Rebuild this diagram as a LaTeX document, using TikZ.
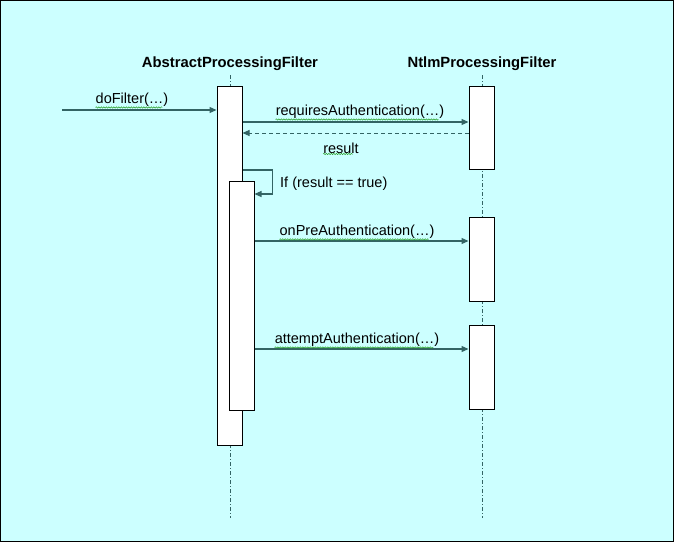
\documentclass[tikz,border=0pt]{standalone}
\usepackage{fontspec}
\setmainfont{Liberation Sans}
\usetikzlibrary{arrows.meta,decorations.pathmorphing}

\definecolor{bgcyan}{RGB}{204,255,255}
\definecolor{lineteal}{RGB}{51,100,100}
\definecolor{squig}{RGB}{40,160,40}

\tikzset{
  head/.style={font=\fontsize{14.8}{17}\selectfont\bfseries, inner sep=0pt},
  lbl/.style={font=\fontsize{14.5}{17}\selectfont, inner sep=0pt},
  lifeline/.style={lineteal, line width=1pt, dash pattern=on 4pt off 2pt on 1pt off 2pt},
  act/.style={draw=black, fill=white, line width=1pt, minimum width=25pt, inner sep=0pt},
  msg/.style={lineteal, line width=1.2pt, -{Triangle[length=7pt,width=6pt]}},
  reply/.style={msg, line width=1pt, dash pattern=on 4pt off 3pt},
  squiggle/.style={squig, line width=0.5pt, decorate,
    decoration={snake, amplitude=0.7pt, segment length=2.5pt}}
}

\begin{document}
\begin{tikzpicture}[x=1pt,y=1pt]
\useasboundingbox (0,0) rectangle (674,-542);
\fill [bgcyan] (0,0) rectangle (674,-542);
\draw [black, line width=1pt] (0.5,-0.5) rectangle (673.5,-541.5);

% headers and lifelines
\node [head] (apfhead) at (230,-64) {AbstractProcessingFilter};
\node [head] (ntlmhead) at (482,-64) {NtlmProcessingFilter};
\coordinate (apfend) at (230,-518);
\coordinate (ntlmend) at (482,-518);
\draw [lifeline] (apfhead.south |- 0,-75) -- (apfend);
\draw [lifeline] (ntlmhead.south |- 0,-75) -- (ntlmend);

% activations
\node [act, minimum height=359pt] (apfact) at (229.5,-265.5) {};
\node [act, minimum height=229pt] (apfinner) at (241.5,-295.5) {};
\node [act, minimum height=83pt] (ntlmact1) at (481.5,-127.5) {};
\node [act, minimum height=84pt] (ntlmact2) at (481.5,-259) {};
\node [act, minimum height=84pt] (ntlmact3) at (481.5,-367) {};

% messages
\coordinate (caller) at (62,-110);
\draw [msg] (caller) -- (apfact.west |- caller);
\node [lbl] (dofilter) at (132,-100) {doFilter(…)};

\draw [msg] (apfact.east |- 0,-122) -- (ntlmact1.west |- 0,-122);
\node [lbl] (reqauth) at (360,-112) {requiresAuthentication(…)};

\draw [reply] (ntlmact1.west |- 0,-133) -- (apfact.east |- 0,-133);
\node [lbl] (result) at (341,-148) {result};

\draw [msg] (apfact.east |- 0,-170) -- ++(30,0) |- (apfinner.east |- 0,-194);
\node [lbl, anchor=west] (cond) at (280,-184) {If (result == true)};

\draw [msg] (apfinner.east |- 0,-241) -- (ntlmact2.west |- 0,-241);
\node [lbl] (preauth) at (357,-232) {onPreAuthentication(…)};

\draw [msg] (apfinner.east |- 0,-349) -- (ntlmact3.west |- 0,-349);
\node [lbl] (attempt) at (357,-340) {attemptAuthentication(…)};

% spell check marks
\foreach \n in {dofilter,reqauth,result,preauth,attempt}
  \draw [squiggle] ([yshift=-0.5pt]\n.south west) -- ([xshift=-6pt,yshift=-0.5pt]\n.south east);
\end{tikzpicture}
\end{document}
